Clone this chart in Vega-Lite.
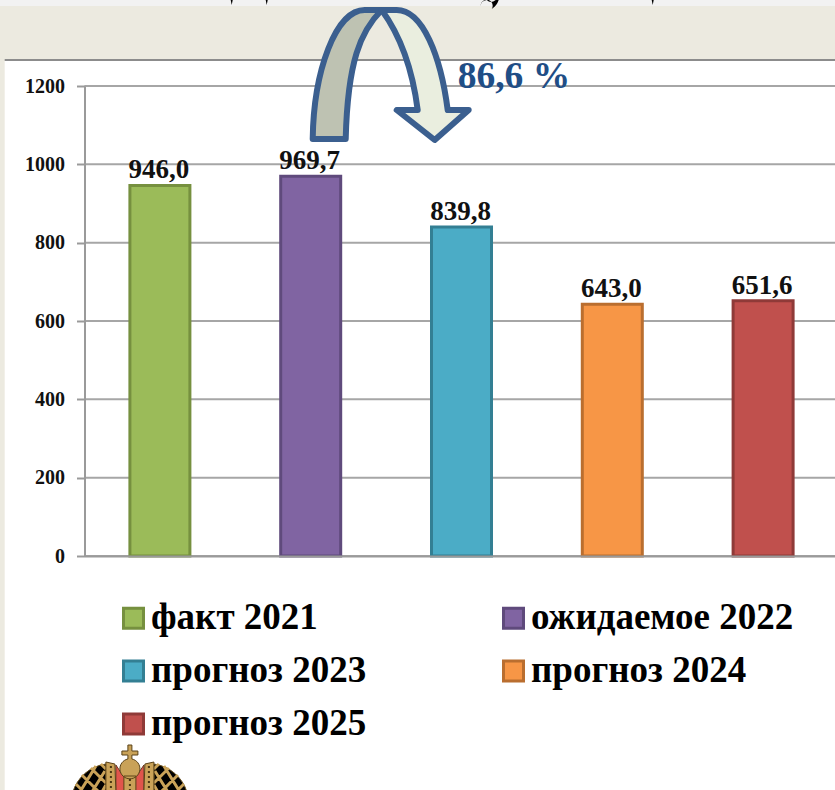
{
"$schema":"https://vega.github.io/schema/vega-lite/v6.json",
"width":750.5,"height":470,
"autosize":{"type":"none"},
"padding":{"left":84.5,"top":86,"right":0,"bottom":234},
"background":"#ECEAE0",
"config":{"view":{"stroke":null},"font":"Liberation Serif"},
"datasets":{
"bars":[
{"period":"факт 2021","value":946.0,"label":"946,0"},
{"period":"ожидаемое 2022","value":969.7,"label":"969,7"},
{"period":"прогноз 2023","value":839.8,"label":"839,8"},
{"period":"прогноз 2024","value":643.0,"label":"643,0"},
{"period":"прогноз 2025","value":651.6,"label":"651,6"}],
"anchorTop":[{"period":"ожидаемое 2022","value":1200,"text":"86,6 %"}],
"anchorBase":[{"period":"факт 2021","value":0}],
"grid":[{"value":0},{"value":200},{"value":400},{"value":600},{"value":800},{"value":1000},{"value":1200}]
},
"encoding":{
"x":{"field":"period","type":"nominal","sort":null,
"scale":{"domain":["факт 2021","ожидаемое 2022","прогноз 2023","прогноз 2024","прогноз 2025"],"range":[0,754]},
"axis":{"title":null,"labels":false,"ticks":false,"domain":true,"domainColor":"#9A9A9A","domainWidth":2,"grid":false,"zindex":1}},
"y":{"field":"value","type":"quantitative",
"scale":{"domain":[0,1200],"nice":false},
"axis":{"title":null,"values":[0,200,400,600,800,1000,1200],"format":"d","grid":false,"domainColor":"#9A9A9A","domainWidth":2,"tickColor":"#9A9A9A","tickWidth":2,"tickSize":8,"labelPadding":12,"labelFont":"Liberation Serif","labelFontWeight":"bold","labelFontSize":20,"labelColor":"#111111","zindex":1}}
},
"layer":[
{"data":{"name":"anchorTop"},"mark":{"type":"point","filled":true,"size":4,"opacity":1,"fill":"#FFFFFF","stroke":null,"shape":"M-306,-25 L530,-25 L530,710 L-306,710 Z"}},
{"data":{"name":"anchorTop"},"mark":{"type":"point","filled":true,"size":4,"opacity":1,"fill":"#F2F2F2","stroke":null,"shape":"M-320,-90 L530,-90 L530,-80 L-320,-80 Z"}},
{"data":{"name":"anchorTop"},"mark":{"type":"point","filled":false,"size":4,"opacity":1,"stroke":"#8C8C8C","strokeWidth":2,"shape":"M-306,-26 L530,-26"}},
{"data":{"name":"anchorTop"},"mark":{"type":"point","filled":true,"size":4,"opacity":1,"fill":"#000000","stroke":null,"shape":"M170,-80 A6,6 0 1 1 181,-77 Q186,-80 188,-86 L185,-86 Q180,-82 176,-86 Q170,-85 170,-80 Z M-80,-86 L-79,-81 L-78,-86 Z M-45,-86 L-44,-81 L-43,-86 Z M341,-86 L342,-81 L343,-86 Z"}},
{"data":{"name":"grid"},"mark":{"type":"rule","color":"#A6A6A6","strokeWidth":2},"encoding":{"x":{"value":0},"x2":{"value":750.5},"y":{"field":"value","type":"quantitative"}}},
{"data":{"name":"bars"},"mark":{"type":"bar","size":60,"strokeWidth":3},
"encoding":{
"fill":{"field":"period","type":"nominal","sort":null,
"scale":{"domain":["факт 2021","ожидаемое 2022","прогноз 2023","прогноз 2024","прогноз 2025"],"range":["#9BBB59","#8064A2","#4BACC6","#F79646","#C0504D"]},
"legend":{"title":null,"orient":"none","legendX":30.5,"legendY":513.5,"columns":2,"columnPadding":128,"rowPadding":15,"padding":0,"values":["факт 2021","прогноз 2023","прогноз 2025","ожидаемое 2022","прогноз 2024"],"symbolType":"square","symbolSize":400,"symbolStrokeWidth":3,"labelFont":"Liberation Serif","labelFontWeight":"bold","labelFontSize":37,"labelColor":"#000000","labelLimit":400,"labelOffset":-1,"gridAlign":"each","symbolOpacity":1}},
"stroke":{"field":"period","type":"nominal","sort":null,
"scale":{"domain":["факт 2021","ожидаемое 2022","прогноз 2023","прогноз 2024","прогноз 2025"],"range":["#76903F","#5F4A7C","#337F93","#BA6E2F","#8F3A38"]},
"legend":{"title":null,"orient":"none","legendX":30.5,"legendY":513.5,"columns":2,"columnPadding":128,"rowPadding":15,"padding":0,"values":["факт 2021","прогноз 2023","прогноз 2025","ожидаемое 2022","прогноз 2024"],"symbolType":"square","symbolSize":400,"symbolStrokeWidth":3,"labelFont":"Liberation Serif","labelFontWeight":"bold","labelFontSize":37,"labelColor":"#000000","labelLimit":400,"labelOffset":-1,"gridAlign":"each","symbolOpacity":1}}
}},
{"data":{"name":"bars"},"mark":{"type":"text","baseline":"bottom","dy":-1,"dx":-1,"font":"Liberation Serif","fontWeight":"bold","fontSize":27,"fill":"#111111"},"encoding":{"text":{"field":"label","type":"nominal"}}},
{"data":{"name":"anchorTop"},"mark":{"type":"point","filled":true,"size":4,"opacity":1,"fill":"#BEC2B2","stroke":"#3B5F8F","strokeWidth":6,"strokeJoin":"round","shape":"M2,53 C3,-15 25,-76 54,-76 L71,-76 C50,-55 37,-25 35,53 Z"}},
{"data":{"name":"anchorTop"},"mark":{"type":"point","filled":true,"size":4,"opacity":1,"fill":"#EAEEDF","stroke":"#3B5F8F","strokeWidth":6,"strokeJoin":"round","shape":"M71,-76 L86,-76 C112,-76 130,-30 137,24 L158,24 L124,54 L86,24 L107,24 C102,-15 90,-50 71,-76 Z"}},
{"data":{"name":"anchorTop"},"mark":{"type":"text","align":"left","baseline":"middle","dx":147,"dy":-9,"font":"Liberation Serif","fontWeight":"bold","fontSize":37.5,"fill":"#1F4E86"},"encoding":{"text":{"field":"text","type":"nominal"}}},
{"data":{"name":"anchorBase"},"mark":{"type":"point","filled":true,"size":4,"opacity":1,"fill":"#000000","stroke":"#6B5220","strokeWidth":1,"shape":"M-87,236 C-83,222 -70,210 -54,208 L-54,236 Z M27,236 C23,222 10,210 -6,208 L-6,236 Z"}},
{"data":{"name":"anchorBase"},"mark":{"type":"point","filled":false,"size":4,"opacity":1,"stroke":"#C9A258","strokeWidth":3,"shape":"M-84,228 L-76,236 M-78,219 L-61,236 M-69,212 L-54,227 M-59,208 L-54,213 M-80,236 L-64,210 M-68,236 L-55,215 M-58,236 L-54,229 M24,228 L16,236 M18,219 L1,236 M9,212 L-6,227 M-1,208 L-6,213 M20,236 L4,210 M8,236 L-5,215 M-2,236 L-6,229"}},
{"data":{"name":"anchorBase"},"mark":{"type":"point","filled":true,"size":4,"opacity":1,"fill":"#E0554C","stroke":"#6B3A20","strokeWidth":1,"shape":"M-44,209 L-38,218 L-22,218 L-16,209 L-16,236 L-44,236 Z"}},
{"data":{"name":"anchorBase"},"mark":{"type":"point","filled":true,"size":4,"opacity":1,"fill":"#C9A258","stroke":"#5A4218","strokeWidth":1,"shape":"M-54,206 L-45,208 L-44,236 L-54,236 Z M-6,206 L-15,208 L-16,236 L-6,236 Z M-36,220 L-24,220 L-24,236 L-36,236 Z M-32,189 L-28,189 L-28,195 L-22,195 L-22,199 L-28,199 L-28,203 A10,10 0 1 1 -32,203 L-32,199 L-38,199 L-38,195 L-32,195 Z"}},
{"data":{"name":"anchorBase"},"mark":{"type":"point","filled":false,"size":4,"opacity":1,"stroke":"#4A3612","strokeWidth":2,"strokeDash":[2,3],"shape":"M-49,210 L-49,236 M-11,210 L-11,236 M-30,223 L-30,236"}}
]
}
